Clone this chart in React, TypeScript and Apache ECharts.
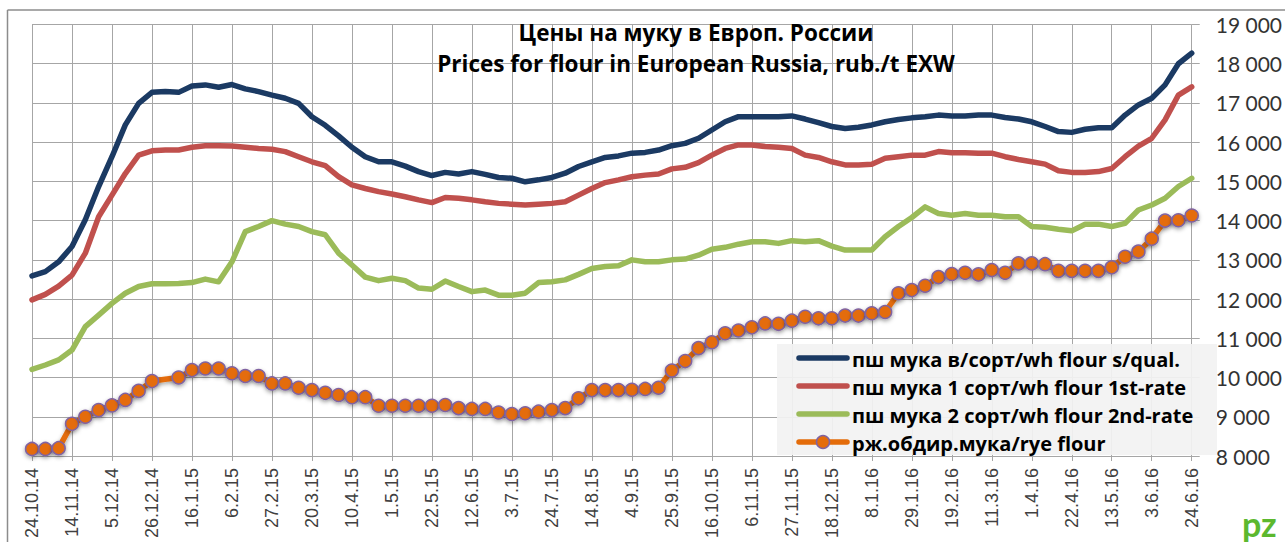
import React, { useEffect, useRef } from "react";
import * as echarts from "echarts";

const categories = [
  "24.10.14", "31.10.14", "7.11.14", "14.11.14", "21.11.14", "28.11.14", "5.12.14", "12.12.14", "19.12.14", "26.12.14",
  "2.1.15", "9.1.15", "16.1.15", "23.1.15", "30.1.15", "6.2.15", "13.2.15", "20.2.15", "27.2.15", "6.3.15",
  "13.3.15", "20.3.15", "27.3.15", "3.4.15", "10.4.15", "17.4.15", "24.4.15", "1.5.15", "8.5.15", "15.5.15",
  "22.5.15", "29.5.15", "5.6.15", "12.6.15", "19.6.15", "26.6.15", "3.7.15", "10.7.15", "17.7.15", "24.7.15",
  "31.7.15", "7.8.15", "14.8.15", "21.8.15", "28.8.15", "4.9.15", "11.9.15", "18.9.15", "25.9.15", "2.10.15",
  "9.10.15", "16.10.15", "23.10.15", "30.10.15", "6.11.15", "13.11.15", "20.11.15", "27.11.15", "4.12.15", "11.12.15",
  "18.12.15", "25.12.15", "1.1.16", "8.1.16", "15.1.16", "22.1.16", "29.1.16", "5.2.16", "12.2.16", "19.2.16",
  "26.2.16", "4.3.16", "11.3.16", "18.3.16", "25.3.16", "1.4.16", "8.4.16", "15.4.16", "22.4.16", "29.4.16",
  "6.5.16", "13.5.16", "20.5.16", "27.5.16", "3.6.16", "10.6.16", "17.6.16", "24.6.16",
];

const seriesNames = [
  "пш мука в/сорт/wh flour s/qual.",
  "пш мука 1 сорт/wh flour 1st-rate",
  "пш мука 2 сорт/wh flour 2nd-rate",
  "рж.обдир.мука/rye flour",
];

const flourSQual = [
  12590, 12700, 12950, 13340, 14020, 14870, 15630, 16440, 16990, 17270,
  17290, 17270, 17430, 17460, 17400, 17470, 17360, 17290, 17200, 17120,
  16990, 16650, 16430, 16160, 15870, 15630, 15500, 15500, 15390, 15250,
  15150, 15230, 15190, 15250, 15180, 15100, 15080, 14990, 15040, 15100,
  15210, 15380, 15500, 15610, 15650, 15720, 15740, 15800, 15910, 15970,
  16100, 16310, 16520, 16650, 16650, 16650, 16650, 16670, 16590, 16500,
  16400, 16350, 16380, 16440, 16520, 16580, 16620, 16650, 16690, 16670,
  16670, 16690, 16690, 16630, 16590, 16520, 16400, 16270, 16250, 16330,
  16370, 16370, 16690, 16950, 17120, 17460, 18000, 18270,
];

const flourFirst = [
  11980, 12120, 12330, 12610, 13170, 14100, 14650, 15200, 15670, 15780,
  15800, 15800, 15870, 15910, 15910, 15900, 15870, 15840, 15820, 15760,
  15630, 15500, 15400, 15120, 14910, 14820, 14740, 14680, 14610, 14530,
  14460, 14590, 14570, 14530, 14480, 14440, 14420, 14400, 14420, 14440,
  14480, 14650, 14820, 14970, 15040, 15120, 15160, 15190, 15320, 15360,
  15480, 15670, 15840, 15930, 15930, 15890, 15870, 15840, 15670, 15610,
  15500, 15420, 15420, 15440, 15590, 15630, 15670, 15670, 15760, 15730,
  15730, 15720, 15720, 15630, 15560, 15500, 15440, 15270, 15230, 15230,
  15250, 15330, 15630, 15900, 16100, 16570, 17200, 17410,
];

const flourSecond = [
  10210, 10320, 10450, 10700, 11300, 11590, 11890, 12150, 12320, 12390,
  12390, 12400, 12420, 12510, 12440, 12950, 13720, 13850, 14000, 13910,
  13850, 13720, 13640, 13170, 12870, 12560, 12470, 12530, 12470, 12280,
  12250, 12460, 12320, 12190, 12230, 12100, 12100, 12150, 12420, 12440,
  12490, 12630, 12780, 12830, 12850, 13000, 12950, 12950, 13000, 13020,
  13120, 13270, 13320, 13400, 13460, 13460, 13420, 13490, 13460, 13490,
  13350, 13250, 13250, 13250, 13590, 13850, 14080, 14350, 14180, 14140,
  14180, 14140, 14140, 14100, 14100, 13850, 13830, 13780, 13740, 13910,
  13910, 13850, 13930, 14270, 14400, 14570, 14870, 15080,
];

const ryeFlour: (number | null)[] = [
  8180, 8180, 8200, 8820, 9000, 9170, 9290, 9430, 9660, 9910,
  null, 10000, 10190, 10230, 10230, 10110, 10040, 10040, 9850, 9850,
  9740, 9680, 9610, 9555, 9500, 9500, 9280, 9280, 9280, 9280,
  9280, 9300, 9220, 9200, 9200, 9110, 9070, 9090, 9130, 9170,
  9220, 9470, 9680, 9680, 9680, 9690, 9710, 9740, 10180, 10420,
  10750, 10900, 11130, 11200, 11280, 11380, 11370, 11450, 11550, 11510,
  11510, 11580, 11580, 11640, 11670, 12150, 12230, 12340, 12560, 12640,
  12670, 12630, 12740, 12670, 12910, 12910, 12890, 12720, 12720, 12720,
  12720, 12810, 13080, 13210, 13540, 14000, 14010, 14130,
];

const titleLines = [
  "Цены на муку в Европ. России",
  "Prices for flour in European Russia, rub./t EXW",
];

const yMin = 8000;
const yMax = 19000;
const yStep = 1000;

const colors = ["#1b3a63", "#c0504d", "#9bbb59", "#e46c0a"];
const markerBorder = "#8064a2";
const gridColor = "#a6a6a6";

export default function App() {
  const ref = useRef<HTMLDivElement>(null);

  useEffect(() => {
    const chart = echarts.init(ref.current!, null, { renderer: "svg" });
    const lineSeries = [flourSQual, flourFirst, flourSecond].map((data, i) => ({
      name: seriesNames[i],
      type: "line",
      data,
      symbol: "none",
      smooth: false,
      lineStyle: { width: 5.5, color: colors[i], cap: "round", join: "round" },
      itemStyle: { color: colors[i] },
      emphasis: { disabled: true },
      z: 3,
    }));

    // custom legend (Excel-style box)
    const legendX = 777;
    const legendY = 344;
    const rowY = [358, 386, 414, 442];
    const legendGraphics: any[] = [
      {
        type: "rect",
        shape: { x: legendX, y: legendY, width: 440, height: 111 },
        style: { fill: "rgba(242,242,242,0.93)" },
        z: 20,
      },
    ];
    seriesNames.forEach((name, i) => {
      legendGraphics.push({
        type: "line",
        shape: { x1: 799, y1: rowY[i], x2: 847, y2: rowY[i] },
        style: { stroke: colors[i], lineWidth: 5.5, lineCap: "round" },
        z: 21,
      });
      if (i === 3) {
        legendGraphics.push({
          type: "circle",
          shape: { cx: 823, cy: rowY[i], r: 6.5 },
          style: { fill: colors[3], stroke: markerBorder, lineWidth: 1.5 },
          z: 22,
        });
      }
      legendGraphics.push({
        type: "text",
        x: 852,
        y: rowY[i] + 1,
        z: 22,
        style: {
          text: name,
          fontFamily: "Open Sans",
          fontWeight: "bold",
          fontSize: 20,
          fill: "#000",
          align: "left",
          verticalAlign: "middle",
        },
      });
    });

    chart.setOption({
      animation: false,
      backgroundColor: "#ffffff",
      grid: { left: 32, right: 87, top: 24.5, bottom: 86, containLabel: false },
      xAxis: {
        type: "category",
        data: categories,
        boundaryGap: false,
        axisLine: { lineStyle: { color: gridColor, width: 1 } },
        axisTick: { show: true, interval: 2, length: 5, lineStyle: { color: gridColor } },
        axisLabel: {
          interval: 2,
          rotate: 90,
          margin: 12,
          fontFamily: "Liberation Sans",
          fontSize: 18,
          color: "#404040",
        },
        splitLine: { show: true, interval: 2, lineStyle: { color: gridColor, width: 1 } },
      },
      yAxis: {
        type: "value",
        position: "right",
        min: yMin,
        max: yMax,
        interval: yStep,
        axisLine: { show: false },
        axisTick: { show: true, length: 8, lineStyle: { color: gridColor } },
        axisLabel: {
          margin: 24,
          fontFamily: "Lato",
          fontSize: 21,
          color: "#333333",
          formatter: (v: number) => String(v).replace(/\B(?=(\d{3})+(?!\d))/g, " "),
        },
        splitLine: { show: true, lineStyle: { color: gridColor, width: 1 } },
      },
      legend: { show: false },
      graphic: [
        { type: "line", shape: { x1: 7.5, y1: 10, x2: 1285, y2: 10 }, style: { stroke: "#8c8c8c", lineWidth: 1.5 }, z: 10 },
        { type: "line", shape: { x1: 7.5, y1: 10, x2: 7.5, y2: 542 }, style: { stroke: "#8c8c8c", lineWidth: 1.5 }, z: 10 },
        {
          type: "text",
          x: 696,
          y: 32,
          z: 10,
          style: { text: titleLines[0], fontFamily: "Open Sans", fontWeight: "bold", fontSize: 22.5, fill: "#000", align: "center", verticalAlign: "middle" },
        },
        {
          type: "text",
          x: 696,
          y: 63,
          z: 10,
          style: { text: titleLines[1], fontFamily: "Open Sans", fontWeight: "bold", fontSize: 22.5, fill: "#000", align: "center", verticalAlign: "middle" },
        },
        {
          type: "text",
          x: 1242,
          y: 506,
          z: 10,
          style: { text: "pz", fontFamily: "Lato", fontWeight: "bold", fontSize: 34, fill: "#5cb82e" },
        },
        ...legendGraphics,
      ],
      series: [
        ...lineSeries,
        {
          name: seriesNames[3],
          type: "line",
          data: ryeFlour,
          connectNulls: true,
          symbol: "circle",
          symbolSize: 13,
          showSymbol: true,
          showAllSymbol: true,
          lineStyle: { width: 5.5, color: colors[3], shadowBlur: 4, shadowColor: "rgba(0,0,0,0.35)", shadowOffsetY: 2 },
          itemStyle: {
            color: colors[3],
            borderColor: markerBorder,
            borderWidth: 1.5,
            shadowBlur: 4,
            shadowColor: "rgba(0,0,0,0.35)",
            shadowOffsetY: 2,
          },
          emphasis: { disabled: true },
          z: 4,
        },
      ],
    });
    return () => chart.dispose();
  }, []);

  return (
    <div
      ref={ref}
      style={{ position: "fixed", left: 0, top: 0, width: 1285, height: 542, background: "#fff" }}
    />
  );
}
